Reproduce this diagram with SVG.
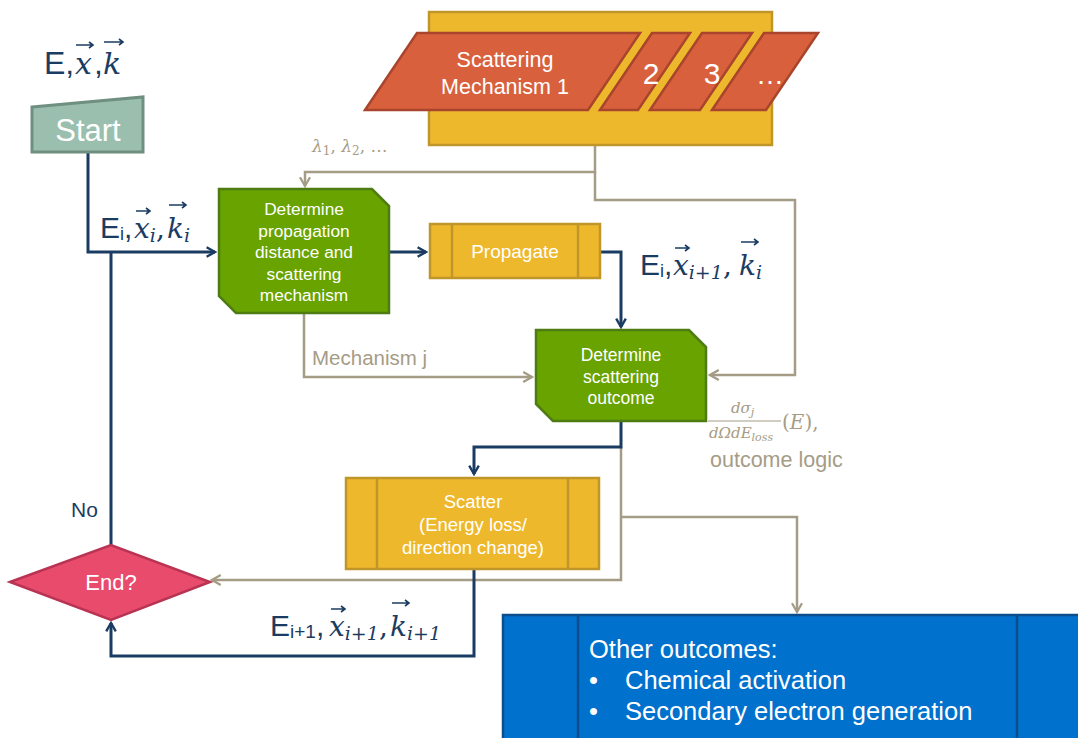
<svg xmlns="http://www.w3.org/2000/svg" width="1078" height="738" viewBox="0 0 1078 738">
<style>
.sans{font-family:"Liberation Sans",Arial,sans-serif}
.math{font-family:"DejaVu Serif","Liberation Serif",serif;font-style:italic}
.wt{fill:#ffffff;text-anchor:middle}
.db{fill:#1b3c62}
.gr{fill:#a59c86}
.cdb{fill:none;stroke:#1b3c62;stroke-width:3}
.cgr{fill:none;stroke:#a59c86;stroke-width:2.5}
.vec{fill:none;stroke-width:1.6}
</style>
<defs>
<marker id="adb" viewBox="0 0 10 10" refX="8" refY="5" markerWidth="4" markerHeight="4" orient="auto" markerUnits="strokeWidth">
<path d="M1,1 L8,5 L1,9" fill="none" stroke="#1b3c62" stroke-width="2"/>
</marker>
<marker id="agr" viewBox="0 0 10 10" refX="8" refY="5" markerWidth="5" markerHeight="5" orient="auto" markerUnits="strokeWidth">
<path d="M1,1 L8,5 L1,9" fill="none" stroke="#a59c86" stroke-width="1.8"/>
</marker>
</defs>
<rect width="1078" height="738" fill="#ffffff"/>

<g id="connectors">
<path class="cgr" d="M595,145 V172 H305 V186" marker-end="url(#agr)"/>
<path class="cgr" d="M595,172 V200 H795 V375 H710" marker-end="url(#agr)"/>
<path class="cgr" d="M304,313 V377 H532" marker-end="url(#agr)"/>
<path class="cgr" d="M621,447 V580 H212" marker-end="url(#agr)"/>
<path class="cgr" d="M621,517 H797 V612" marker-end="url(#agr)"/>
<path class="cdb" d="M88,152 V252 H215" marker-end="url(#adb)"/>
<path class="cdb" d="M111,545 V252"/>
<path class="cdb" d="M389,252 H426" marker-end="url(#adb)"/>
<path class="cdb" d="M600,252 H621 V327" marker-end="url(#adb)"/>
<path class="cdb" d="M621,421 V447 H474 V474" marker-end="url(#adb)"/>
<path class="cdb" d="M474,569 V656 H111 V623" marker-end="url(#adb)"/>
</g>

<g id="label-start-vars">
<text class="sans db" x="44" y="74" font-size="32">E,</text>
<text class="math db" x="75" y="74" font-size="30">x</text>
<text class="sans db" x="94" y="74" font-size="32">,</text>
<text class="math db" x="103" y="74" font-size="30">k</text>
<path class="vec" stroke="#1b3c62" d="M76,45 H93 M89,42 L93,45 L89,48 M104,42 H123 M119,39 L123,42 L119,45"/>
</g>

<g id="start">
<path d="M32,107 L143,97 L143,152 L32,152 Z" fill="#9bbfae" stroke="#6f9080" stroke-width="3"/>
<text class="sans wt" x="88" y="141" font-size="31">Start</text>
</g>

<g id="mechanisms">
<rect x="429" y="12" width="343" height="133" fill="#eeb82c" stroke="#c0962a" stroke-width="2.5"/>
<g fill="#d9603d" stroke="#a8452c" stroke-width="2.5">
<path d="M365,110 L417,33 L640,33 L588,110 Z"/>
<path d="M600,110 L652,33 L690,33 L638,110 Z"/>
<path d="M650,110 L702,33 L752,33 L700,110 Z"/>
<path d="M712,110 L764,33 L818,33 L766,110 Z"/>
</g>
<text class="sans wt" x="505" y="67" font-size="21.5">Scattering</text>
<text class="sans wt" x="505" y="94" font-size="21.5">Mechanism 1</text>
<text class="sans wt" x="651" y="84" font-size="30">2</text>
<text class="sans wt" x="712" y="84" font-size="30">3</text>
<text class="sans wt" x="770" y="84" font-size="28">…</text>
</g>

<g id="label-lambda">
<text class="math gr" x="312" y="152" font-size="17">λ<tspan font-size="12" dy="3" font-style="normal">1</tspan><tspan dy="-3" font-style="normal">, </tspan>λ<tspan font-size="12" dy="3" font-style="normal">2</tspan><tspan dy="-3" font-style="normal">, …</tspan></text>
</g>

<g id="determine-propagation">
<path d="M219,189 L372,189 L389,206 L389,313 L236,313 L219,296 Z" fill="#68a300" stroke="#4e7c12" stroke-width="2.5"/>
<g class="sans wt" font-size="17.3">
<text x="304" y="215">Determine</text>
<text x="304" y="237">propagation</text>
<text x="304" y="258">distance and</text>
<text x="304" y="280">scattering</text>
<text x="304" y="301">mechanism</text>
</g>
</g>

<g id="label-ei">
<text class="sans db" x="100" y="238" font-size="30">E<tspan font-size="18" dy="2">i</tspan><tspan dy="-2">,</tspan></text>
<text class="math db" x="134" y="238" font-size="28">x<tspan font-size="19" dy="4">i</tspan><tspan font-style="normal" dy="-4">,</tspan></text>
<text class="math db" x="167" y="238" font-size="28">k<tspan font-size="19" dy="4">i</tspan></text>
<path class="vec" stroke="#1b3c62" d="M136,211 H150 M146,208 L150,211 L146,214 M169,205 H186 M182,202 L186,205 L182,208"/>
</g>

<g id="propagate">
<rect x="430" y="224" width="170" height="54" fill="#eeb82c" stroke="#c0962a" stroke-width="2.5"/>
<path d="M452,224 V278 M578,224 V278" stroke="#c0962a" stroke-width="2.5"/>
<text class="sans wt" x="515" y="258" font-size="19">Propagate</text>
</g>

<g id="label-ei-xi1">
<text class="sans db" x="640" y="275" font-size="30">E<tspan font-size="18" dy="2">i</tspan><tspan dy="-2">,</tspan></text>
<text class="math db" x="673" y="275" font-size="28">x<tspan font-size="19" dy="4">i+1</tspan><tspan font-style="normal" dy="-4">,</tspan></text>
<text class="math db" x="739" y="275" font-size="28">k<tspan font-size="19" dy="4">i</tspan></text>
<path class="vec" stroke="#1b3c62" d="M675,248 H689 M685,245 L689,248 L685,251 M741,242 H758 M754,239 L758,242 L754,245"/>
</g>

<g id="determine-outcome">
<path d="M536,330 L689,330 L706,347 L706,421 L553,421 L536,404 Z" fill="#68a300" stroke="#4e7c12" stroke-width="2.5"/>
<g class="sans wt" font-size="17.5">
<text x="621" y="361">Determine</text>
<text x="621" y="383">scattering</text>
<text x="621" y="404">outcome</text>
</g>
</g>

<g id="label-mechanism-j">
<text class="sans gr" x="312" y="365" font-size="20.5">Mechanism j</text>
</g>

<g id="label-formula">
<text class="math gr" x="731" y="413" font-size="15">dσ<tspan font-size="11" dy="3">j</tspan></text>
<line x1="708" y1="421" x2="781" y2="421" stroke="#a59c86" stroke-width="1.2"/>
<text class="math gr" x="709" y="438" font-size="15">dΩdE<tspan font-size="11" dy="3">loss</tspan></text>
<text class="math gr" x="782" y="429" font-size="20"><tspan font-style="normal">(</tspan>E<tspan font-style="normal">),</tspan></text>
<text class="sans gr" x="710" y="467" font-size="21.5">outcome logic</text>
</g>

<g id="scatter">
<rect x="346" y="478" width="253" height="91" fill="#eeb82c" stroke="#c0962a" stroke-width="2.5"/>
<path d="M377,478 V569 M568,478 V569" stroke="#c0962a" stroke-width="2.5"/>
<g class="sans wt" font-size="18.5">
<text x="473" y="508">Scatter</text>
<text x="473" y="531">(Energy loss/</text>
<text x="473" y="554">direction change)</text>
</g>
</g>

<g id="end">
<path d="M10,582 L111,545 L210,582 L111,620 Z" fill="#e94b6d" stroke="#b83452" stroke-width="2.5"/>
<text class="sans wt" x="111" y="590" font-size="22">End?</text>
</g>

<g id="label-no">
<text class="sans db" x="71" y="517" font-size="21">No</text>
</g>

<g id="label-ei1">
<text class="sans db" x="270" y="636" font-size="30">E<tspan font-size="19" dy="2">i+1</tspan><tspan dy="-2">,</tspan></text>
<text class="math db" x="329" y="636" font-size="28">x<tspan font-size="19" dy="4">i+1</tspan><tspan font-style="normal" dy="-4">,</tspan></text>
<text class="math db" x="390" y="636" font-size="28">k<tspan font-size="19" dy="4">i+1</tspan></text>
<path class="vec" stroke="#1b3c62" d="M331,609 H345 M341,606 L345,609 L341,612 M392,603 H409 M405,600 L409,603 L405,606"/>
</g>

<g id="other-outcomes">
<rect x="503" y="615" width="590" height="140" fill="#0071cd" stroke="#0b4e8e" stroke-width="2.5"/>
<path d="M578,615 V738 M1017,615 V738" stroke="#0b4e8e" stroke-width="2.5"/>
<g class="sans" fill="#ffffff" font-size="25.5">
<text x="589" y="658">Other outcomes:</text>
<text x="589" y="689">•</text>
<text x="625" y="689">Chemical activation</text>
<text x="589" y="720">•</text>
<text x="625" y="720">Secondary electron generation</text>
</g>
</g>
</svg>
